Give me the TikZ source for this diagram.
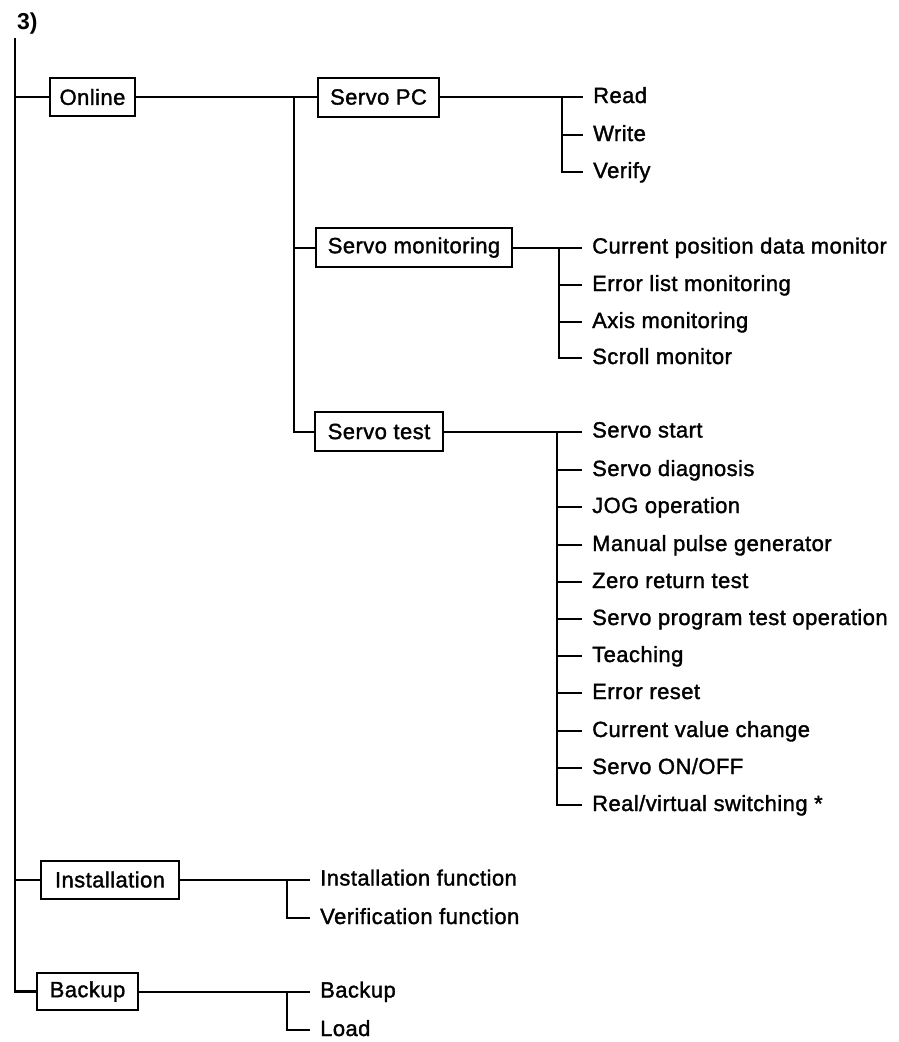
\documentclass[tikz,border=0pt]{standalone}
\usepackage{fontspec}
\newfontfamily\labelfont{Liberation Sans}[FakeBold=1.5,LetterSpace=2]
\newfontfamily\headfont{Liberation Sans Bold}
\begin{document}
\begin{tikzpicture}[x=1pt,y=-1pt,
  lab/.style={font=\labelfont\fontsize{22}{26}\selectfont},
  box/.style={lab, draw, line width=2pt, inner sep=0pt, minimum height=38pt},
  leaf/.style={lab, anchor=west, inner xsep=10pt, inner ysep=0pt,
               text height=15pt, text depth=3pt},
  wire/.style={line width=2pt, line join=miter},
  trunk/.style={line width=2.6pt, line join=miter}]
\useasboundingbox (0,0) rectangle (898,1042);

% heading
\node[font=\headfont\fontsize{23}{26}\selectfont, anchor=base west, inner sep=0pt]
  (head) at (17,29) {3)};

% first-level boxes
\node[box, minimum width=85pt]  (online) at (92.5,97)   {Online};
\node[box, minimum width=138pt] (inst)   at (110,879.5) {Installation};
\node[box, minimum width=101pt, minimum height=37pt] (bkp) at (87.5,991.5) {Backup};

% second-level boxes
\node[box, minimum width=121pt, minimum height=39pt] (spc)   at (378.5,97)  {Servo PC};
\node[box, minimum width=196pt, minimum height=39pt] (smon)  at (414,247.5) {Servo monitoring};
\node[box, minimum width=128pt, minimum height=39pt] (stest) at (379,431.5) {Servo test};

% leaves of Servo PC
\node[leaf] (read)   at (583,97)  {Read};
\node[leaf] (write)  at (583,135) {Write};
\node[leaf] (verify) at (583,172) {Verify};

% leaves of Servo monitoring
\node[leaf] (cpos)   at (582,247.5) {Current position data monitor};
\node[leaf] (elist)  at (582,285)   {Error list monitoring};
\node[leaf] (axis)   at (582,322)   {Axis monitoring};
\node[leaf] (scroll) at (582,358)   {Scroll monitor};

% leaves of Servo test
\node[leaf] (t1)  at (582,431.5) {Servo start};
\node[leaf] (t2)  at (582,470)   {Servo diagnosis};
\node[leaf] (t3)  at (582,507)   {JOG operation};
\node[leaf] (t4)  at (582,545)   {Manual pulse generator};
\node[leaf] (t5)  at (582,582)   {Zero return test};
\node[leaf] (t6)  at (582,619)   {Servo program test operation};
\node[leaf] (t7)  at (582,656)   {Teaching};
\node[leaf] (t8)  at (582,693)   {Error reset};
\node[leaf] (t9)  at (582,731)   {Current value change};
\node[leaf] (t10) at (582,768)   {Servo ON/OFF};
\node[leaf] (t11) at (582,805)   {Real/virtual switching *};

% leaves of Installation and Backup
\node[leaf] (ifun) at (310,879.5) {Installation function};
\node[leaf] (vfun) at (310,918)   {Verification function};
\node[leaf] (lbk)  at (310,991.5) {Backup};
\node[leaf] (load) at (310,1030)  {Load};

% branch points
\coordinate (top) at (15,38);
\coordinate (ob)  at (294,97);
\coordinate (pb)  at (562,97);
\coordinate (mb)  at (559,247.5);
\coordinate (tb)  at (557,431.5);
\coordinate (ib)  at (287,879.5);
\coordinate (bb)  at (287,991.5);

% main trunk
\draw[trunk] (top) -- (top |- bkp.west) -- (bkp.west);
\draw[wire] (top |- online.west) -- (online.west);
\draw[wire] (top |- inst.west) -- (inst.west);

% Online branch
\draw[wire] (online.east) -- (spc.west);
\draw[wire] (ob) |- (stest.west);
\draw[wire] (ob |- smon.west) -- (smon.west);

% Servo PC branch
\draw[wire] (spc.east) -- (read.west);
\draw[wire] (pb) |- (verify.west);
\draw[wire] (pb |- write.west) -- (write.west);

% Servo monitoring branch
\draw[wire] (smon.east) -- (cpos.west);
\draw[wire] (mb) |- (scroll.west);
\foreach \n in {elist,axis}
  \draw[wire] (mb |- \n.west) -- (\n.west);

% Servo test branch
\draw[wire] (stest.east) -- (t1.west);
\draw[wire] (tb) |- (t11.west);
\foreach \n in {t2,t3,t4,t5,t6,t7,t8,t9,t10}
  \draw[wire] (tb |- \n.west) -- (\n.west);

% Installation branch
\draw[wire] (inst.east) -- (ifun.west);
\draw[wire] (ib) |- (vfun.west);

% Backup branch
\draw[wire] (bkp.east) -- (lbk.west);
\draw[wire] (bb) |- (load.west);
\end{tikzpicture}
\end{document}
